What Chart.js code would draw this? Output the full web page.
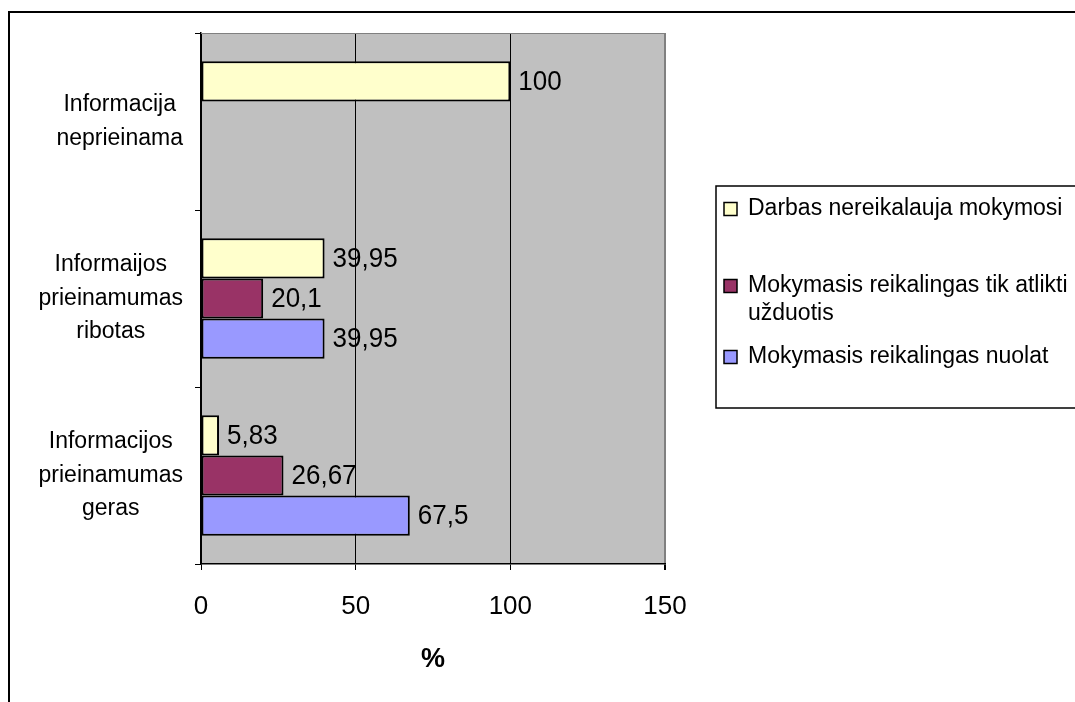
<!DOCTYPE html>
<html>
<head>
<meta charset="utf-8">
<script src="https://cdn.jsdelivr.net/npm/chart.js@4/dist/chart.umd.min.js"></script>
<style>
  html, body { margin: 0; padding: 0; background: #ffffff; }
  #wrap { width: 1075px; height: 702px; }
</style>
</head>
<body>
<div id="wrap"><canvas id="c" width="1075" height="702"></canvas></div>
<script>
// Categories (top to bottom), each split into lines as printed on the axis
const categories = [
  ['Informacija', 'neprieinama'],
  ['Informaijos', 'prieinamumas', 'ribotas'],
  ['Informacijos', 'prieinamumas', 'geras']
];

// Series names
const seriesNames = [
  'Darbas nereikalauja mokymosi',
  'Mokymasis reikalingas tik atlikti užduotis',
  'Mokymasis reikalingas nuolat'
];

// Series values, in percent (null = no bar)
const noLearning = [100, 39.95, 5.83];
const taskLearning = [null, 20.1, 26.67];
const constantLearning = [null, 39.95, 67.5];

// Value axis ticks
const xTicks = [0, 50, 100, 150];
const xTitle = '%';

const colors = ['#FFFFCC', '#993366', '#9999FF'];
const FONT = '"Liberation Sans", Arial, sans-serif';

const fmt = v => String(v).replace('.', ',');

// Page frame, plot background and top border of the plot
const backdrop = {
  id: 'backdrop',
  beforeDraw(chart) {
    const { ctx, chartArea: a } = chart;
    ctx.save();
    ctx.strokeStyle = '#000';
    ctx.lineWidth = 2;
    ctx.strokeRect(9, 12, 1200, 800);
    ctx.fillStyle = '#C0C0C0';
    ctx.fillRect(a.left, a.top, a.right - a.left, a.bottom - a.top);
    ctx.restore();
  },
  beforeDatasetsDraw(chart) {
    const { ctx, chartArea: a } = chart;
    ctx.save();
    ctx.strokeStyle = '#808080';
    ctx.lineWidth = 1;
    ctx.beginPath();
    ctx.moveTo(a.left, a.top + 0.5);
    ctx.lineTo(a.right, a.top + 0.5);
    ctx.stroke();
    ctx.restore();
  }
};

// Value labels at the end of each bar
const valueLabels = {
  id: 'valueLabels',
  afterDatasetsDraw(chart) {
    const { ctx } = chart;
    ctx.save();
    ctx.font = '26px ' + FONT;
    ctx.fillStyle = '#000';
    ctx.textAlign = 'left';
    ctx.textBaseline = 'middle';
    chart.data.datasets.forEach((ds, di) => {
      const meta = chart.getDatasetMeta(di);
      meta.data.forEach((bar, i) => {
        const v = ds.data[i];
        if (v === null || v === undefined) return;
        ctx.save();
        ctx.translate(bar.x + 8, bar.y + 1);
        ctx.scale(1, 1.08);
        ctx.fillText(fmt(v), 0, 0);
        ctx.restore();
      });
    });
    ctx.restore();
  }
};

// Category labels: multi-line blocks, lines centred within the block,
// block placed against the category axis
const categoryLabels = {
  id: 'categoryLabels',
  afterDraw(chart) {
    const { ctx } = chart;
    const y = chart.scales.y;
    const lh = 33.5;
    ctx.save();
    ctx.font = '23px ' + FONT;
    ctx.fillStyle = '#000';
    ctx.textAlign = 'center';
    ctx.textBaseline = 'middle';
    categories.forEach((lines, i) => {
      const cy = y.getPixelForValue(i);
      const w = Math.max(...lines.map(l => ctx.measureText(l).width));
      const cx = y.right - 18 - w / 2;
      const y0 = cy - (lines.length - 1) * lh / 2;
      lines.forEach((l, k) => ctx.fillText(l, cx, y0 + k * lh));
    });
    ctx.restore();
  }
};

// Boxed legend to the right of the plot
const boxLegend = {
  id: 'boxLegend',
  afterDraw(chart) {
    const { ctx } = chart;
    const box = { x: 716, y: 186, w: 400, h: 222 };
    const itemY = [209, 286, 357];
    const lh = 28;
    const textX = 748;
    const maxW = 1073 - textX;
    ctx.save();
    ctx.fillStyle = '#fff';
    ctx.fillRect(box.x, box.y, box.w, box.h);
    ctx.strokeStyle = '#000';
    ctx.lineWidth = 1.5;
    ctx.strokeRect(box.x, box.y, box.w, box.h);
    ctx.font = '23px ' + FONT;
    ctx.textAlign = 'left';
    ctx.textBaseline = 'middle';
    chart.data.datasets.forEach((ds, i) => {
      // word-wrap the name
      const words = ds.label.split(' ');
      const lines = [];
      let cur = '';
      words.forEach(wd => {
        const t = cur ? cur + ' ' + wd : wd;
        if (ctx.measureText(t).width > maxW && cur) { lines.push(cur); cur = wd; }
        else cur = t;
      });
      lines.push(cur);
      const yy = itemY[i];
      ctx.fillStyle = ds.backgroundColor;
      ctx.fillRect(724, yy - 6.5, 13, 13);
      ctx.strokeStyle = '#000';
      ctx.lineWidth = 1.5;
      ctx.strokeRect(724, yy - 6.5, 13, 13);
      ctx.fillStyle = '#000';
      lines.forEach((l, k) => ctx.fillText(l, textX, yy + k * lh));
    });
    ctx.restore();
  }
};

const seriesData = [noLearning, taskLearning, constantLearning];

new Chart(document.getElementById('c'), {
  type: 'bar',
  data: {
    labels: categories.map(c => c.join(' ')),
    datasets: seriesNames.map((name, i) => ({
      label: name,
      data: seriesData[i],
      backgroundColor: colors[i],
      borderColor: '#000',
      borderWidth: 2,
      borderSkipped: false,
      categoryPercentage: 0.68,
      barPercentage: 1.0
    }))
  },
  options: {
    indexAxis: 'y',
    responsive: false,
    animation: false,
    events: [],
    layout: { padding: { left: 0, top: 33, right: 410, bottom: 0 } },
    plugins: {
      legend: { display: false },
      tooltip: { enabled: false }
    },
    scales: {
      x: {
        type: 'linear',
        min: xTicks[0],
        max: xTicks[xTicks.length - 1],
        afterBuildTicks(scale) { scale.ticks = xTicks.map(v => ({ value: v })); },
        afterFit(scale) { scale.height = 138; },
        grid: {
          color: ctx => (ctx.tick && ctx.tick.value === 150) ? '#808080' : '#000',
          lineWidth: ctx => (ctx.tick && ctx.tick.value === 150) ? 2 : 1,
          tickColor: '#000',
          tickLength: 6,
          drawTicks: true
        },
        border: { display: true, color: '#000', width: 1.5 },
        ticks: {
          font: { family: FONT, size: 26 },
          color: '#000',
          padding: 21,
          maxRotation: 0
        },
        title: {
          display: true,
          text: xTitle,
          font: { family: FONT, size: 27, weight: 'bold' },
          color: '#000',
          padding: { top: 0, bottom: 26 }
        }
      },
      y: {
        type: 'category',
        offset: true,
        afterFit(scale) { scale.width = 201; },
        grid: {
          offset: true,
          drawOnChartArea: false,
          color: '#000',
          tickLength: 6
        },
        border: { display: true, color: '#000', width: 1.5 },
        ticks: { display: false }
      }
    }
  },
  plugins: [backdrop, valueLabels, categoryLabels, boxLegend]
});
</script>
</body>
</html>
